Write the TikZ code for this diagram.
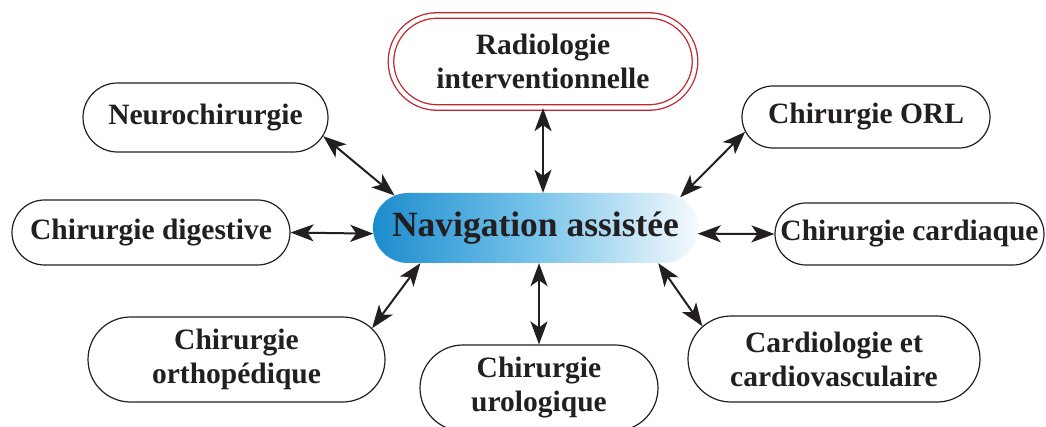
\documentclass[tikz,border=0pt]{standalone}
\usepackage{fontspec}
\setmainfont{Liberation Serif}
\usetikzlibrary{shapes.misc,arrows.meta}
\definecolor{txt}{RGB}{35,31,32}
\definecolor{radred}{RGB}{192,39,45}
\definecolor{navL}{RGB}{28,140,206}
\definecolor{navM}{RGB}{120,196,234}
\definecolor{navR}{RGB}{246,250,253}
\begin{document}
\begin{tikzpicture}[x=1pt,y=-1pt,
  box/.style={rounded rectangle, draw=txt, line width=1.2pt, inner sep=0pt,
    text=txt, font=\fontsize{29.5}{34}\selectfont\bfseries, align=center},
  >={Stealth[length=23pt,width=17pt,inset=6pt]},
  link/.style={line width=2pt, draw=txt, <->}]
\clip (0,0) rectangle (1046,427);
\fill[white] (0,0) rectangle (1046,427);

\node[rounded rectangle, inner sep=0pt, minimum width=325pt, minimum height=70pt,
  left color=navL, right color=navR, middle color=navM, text=txt,
  font=\fontsize{35.5}{40}\selectfont\bfseries] (nav) at (535.5,228) {Navigation assistée};

\node[box, draw=radred, double=white, double distance=4.2pt, line width=1.3pt,
  minimum width=304pt, minimum height=92pt] (rad) at (543,61.5) {Radiologie\\interventionnelle};
\node[box, minimum width=245pt, minimum height=69pt] (neuro) at (205.5,117.5) {Neurochirurgie};
\node[box, minimum width=278pt, minimum height=65pt] (dig) at (151,232.5) {Chirurgie digestive};
\node[box, minimum width=297pt, minimum height=85pt] (ortho) at (236.5,359.5) {Chirurgie\\orthopédique};
\node[box, minimum width=238pt, minimum height=86pt] (uro) at (539,388) {Chirurgie\\urologique};
\node[box, minimum width=248pt, minimum height=62pt] (orl) at (866,117) {Chirurgie ORL};
\node[box, minimum width=269pt, minimum height=62pt] (card) at (909.5,234) {Chirurgie cardiaque};
\node[box, minimum width=292pt, minimum height=86pt] (cardio) at (834,359) {Cardiologie et\\cardiovasculaire};

\draw[link] (neuro.-9) -- (nav.167);
\draw[link] (dig.east) -- (nav.-178);
\draw[link] (rad.south) -- (rad.south |- nav.north);
\draw[link] (orl.-173) -- (nav.12.8);
\draw[link] (card.west) -- (nav.-2.1);
\draw[link] (ortho.13.4) -- (nav.-163.2);
\draw[link] (uro.north) -- (uro.north |- nav.south);
\draw[link] (cardio.166.3) -- (nav.-16.2);
\end{tikzpicture}
\end{document}
